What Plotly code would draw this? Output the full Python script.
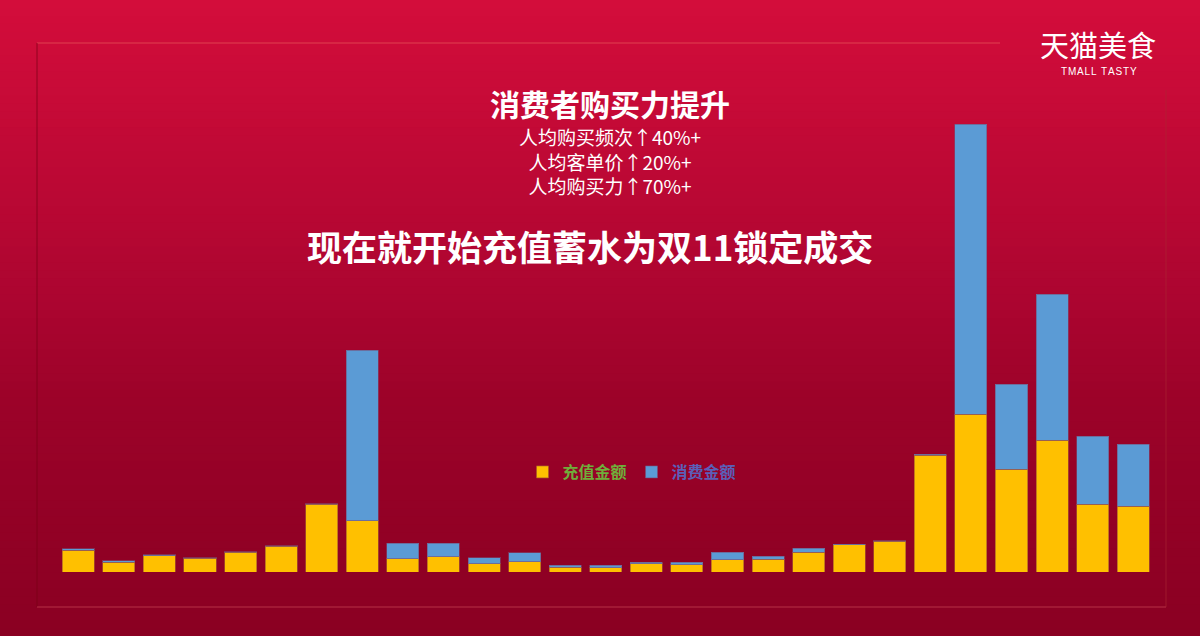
import plotly.graph_objects as go

W, H = 1200, 636

categories = [str(i) for i in range(1, 28)]
recharge = [22, 10, 16.5, 14, 20, 25.7, 68, 51.3, 13.3, 15.3, 8.3, 10.3, 4.7, 4.5,
            8.3, 7.3, 12.3, 12.7, 19.7, 27.5, 31, 117, 157.7, 103, 132, 68, 65.7]
consume = [1.5, 1.5, 0.7, 0.5, 0.5, 0.5, 0.3, 170.7, 15.4, 13.7, 6, 9, 2.3, 2.5,
           1.7, 2.7, 7.4, 3.3, 4.3, 0.5, 0.3, 1, 290.3, 85, 146, 68, 62.3]
series_names = ["充值金额", "消费金额"]

title_main = "消费者购买力提升"
title_lines = ["人均购买频次↑40%+", "人均客单价↑20%+", "人均购买力↑70%+"]
headline = "现在就开始充值蓄水为双11锁定成交"
logo_cn = "天猫美食"
logo_en = "TMALL TASTY"

FONT = "Noto Sans CJK SC"

fig = go.Figure()
fig.add_trace(go.Bar(
    x=categories, y=recharge,
    name="<b><span style='color:#6FAE3A'>" + series_names[0] + "</span></b>",
    marker=dict(color="#FFC000", line=dict(color="rgba(170,90,40,0.7)", width=1)),
))
fig.add_trace(go.Bar(
    x=categories, y=consume,
    name="<b><span style='color:#5A5FB8'>" + series_names[1] + "</span></b>",
    marker=dict(color="#5B9BD5", line=dict(color="rgba(120,80,120,0.6)", width=1)),
))

# background gradient bands
def lerp(a, b, t):
    return tuple(int(round(a[i] + (b[i] - a[i]) * t)) for i in range(3))

stops = [(0.0, (0xD4, 0x0D, 0x3B)), (0.47, (0xAC, 0x05, 0x30)),
         (0.63, (0x9C, 0x02, 0x29)), (1.0, (0x8A, 0x00, 0x22))]
shapes = []
N = 80
for k in range(N):
    t = (k + 0.5) / N
    for j in range(len(stops) - 1):
        if stops[j][0] <= t <= stops[j + 1][0]:
            tt = (t - stops[j][0]) / (stops[j + 1][0] - stops[j][0])
            c = lerp(stops[j][1], stops[j + 1][1], tt)
            break
    y1 = 1 - k / N
    y0 = 1 - (k + 1) / N - 0.002
    shapes.append(dict(type="rect", xref="paper", yref="paper", x0=0, x1=1,
                       y0=y0, y1=y1, fillcolor="rgb(%d,%d,%d)" % c,
                       line=dict(width=0), layer="below"))

def px(x):
    return x / W

def py(y):
    return 1 - y / H

# frame lines
shapes += [
    dict(type="line", xref="paper", yref="paper", x0=px(37), x1=px(1000), y0=py(43), y1=py(43),
         line=dict(color="rgba(240,110,100,0.55)", width=1), layer="below"),
    dict(type="line", xref="paper", yref="paper", x0=px(37), x1=px(37), y0=py(43), y1=py(607),
         line=dict(color="rgba(120,0,20,0.7)", width=1), layer="below"),
    dict(type="line", xref="paper", yref="paper", x0=px(37), x1=px(1166), y0=py(607), y1=py(607),
         line=dict(color="rgba(220,90,100,0.55)", width=1), layer="below"),
    dict(type="line", xref="paper", yref="paper", x0=px(1166), x1=px(1166), y0=py(90), y1=py(607),
         line=dict(color="rgba(170,40,50,0.6)", width=1), layer="below"),
]

def ann(text, x, y, size, family=FONT):
    return dict(text=text, x=px(x), y=py(y), xref="paper", yref="paper",
                xanchor="center", yanchor="middle", showarrow=False,
                font=dict(family=family, size=size, color="white"))

annotations = [
    ann("<b>" + title_main + "</b>", 610, 103, 30),
    ann("<br>".join(title_lines), 610, 161, 19),
    ann("<b>" + headline + "</b>", 590, 245, 35),
    ann(logo_cn, 1098, 44, 29),
    ann("\u200a".join(logo_en), 1099, 71, 10, "Liberation Sans"),
]

fig.update_layout(
    width=W, height=H,
    margin=dict(l=0, r=0, t=0, b=0),
    barmode="stack", bargap=0.21,
    paper_bgcolor="#8A0022", plot_bgcolor="rgba(0,0,0,0)",
    showlegend=True,
    legend=dict(orientation="h", x=px(632), y=py(472), xanchor="center", yanchor="middle",
                bgcolor="rgba(0,0,0,0)", font=dict(family=FONT, size=16),
                itemwidth=30, traceorder="normal"),
    xaxis=dict(domain=[px(58), px(1153.5)], showticklabels=False, showgrid=False,
               zeroline=False, showline=False, ticks="", fixedrange=True),
    yaxis=dict(domain=[py(572), py(44)], range=[0, 528], showticklabels=False,
               showgrid=False, zeroline=False, showline=False, ticks="", fixedrange=True),
    shapes=shapes, annotations=annotations,
)

fig.write_html("out.html", config={"displayModeBar": False},
               post_script="document.body.style.margin='0';document.body.style.padding='0';document.body.style.overflow='hidden';")
